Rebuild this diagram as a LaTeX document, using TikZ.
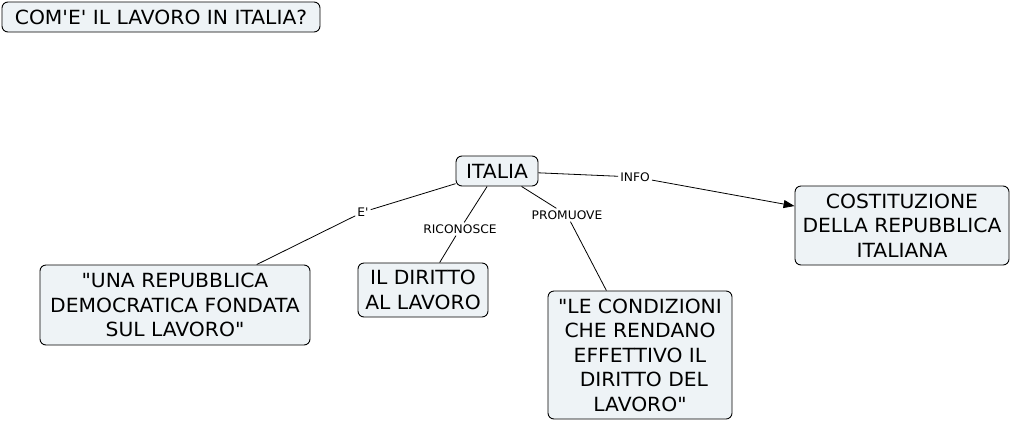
\documentclass[tikz,border=0pt]{standalone}
\usepackage{fontspec}
\setmainfont{DejaVu Sans}[FakeStretch=1.04, Ligatures=TeXOff]
\usetikzlibrary{arrows.meta}
\definecolor{boxfill}{RGB}{238,243,246}
\tikzset{
  concept/.style={draw=black, line width=0.9pt, rounded corners=6pt, fill=boxfill,
    align=center, inner sep=2pt, font=\fontsize{19.5}{24.5}\selectfont},
  lbl/.style={inner sep=2pt, font=\fontsize{11.8}{13}\selectfont},
  link/.style={draw=black, line width=0.8pt},
}
\begin{document}
\begin{tikzpicture}[x=1pt,y=-1pt]
\useasboundingbox (0,0) rectangle (1011,421);
\node[concept, minimum width=318pt, minimum height=30pt] (title) at (161,17) {COM'E' IL LAVORO IN ITALIA?};
\node[concept, minimum width=82pt, minimum height=30pt] (italia) at (497,171) {ITALIA};
\node[concept, minimum width=214pt, minimum height=79pt] (cost) at (902,225.5) {COSTITUZIONE\\DELLA REPUBBLICA\\ITALIANA};
\node[concept, minimum width=270pt, minimum height=80pt] (una) at (175,305) {"UNA REPUBBLICA\\DEMOCRATICA FONDATA\\SUL LAVORO"};
\node[concept, minimum width=130pt, minimum height=54pt] (diritto) at (423,290) {IL DIRITTO\\AL LAVORO};
\node[concept, minimum width=184pt, minimum height=128pt] (cond) at (640,355) {"LE CONDIZIONI\\CHE RENDANO\\EFFETTIVO IL\hspace*{0.6em}\\\hspace*{0.4em}DIRITTO DEL\\LAVORO"};

\node[lbl] (le) at (363,212) {E'};
\node[lbl] (lric) at (460,229) {RICONOSCE};
\node[lbl] (lprom) at (567,215) {PROMUOVE};
\node[lbl] (linfo) at (635,177) {INFO};

\draw[link] (italia) -- (le);
\draw[link] (le) -- (una);
\draw[link] (italia) -- (lric);
\draw[link] (lric) -- (diritto);
\draw[link] (italia) -- (lprom);
\draw[link] (lprom) -- (cond);
\draw[link] (italia) -- (linfo);
\draw[link, -{Triangle[length=11pt,width=8pt]}] (linfo) -- (cost);
\end{tikzpicture}
\end{document}
